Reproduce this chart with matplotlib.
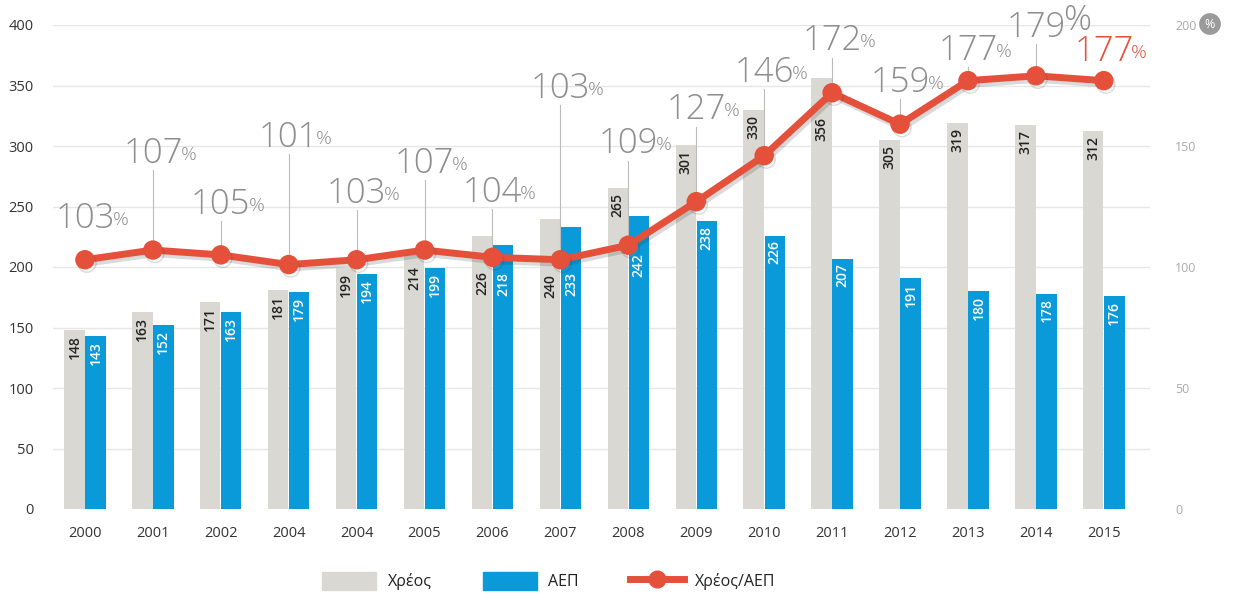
import matplotlib
matplotlib.use('Agg')
import matplotlib.pyplot as plt
import matplotlib.patheffects as pe
from matplotlib.patches import Patch
from matplotlib.lines import Line2D
import numpy as np

# Δεδομένα
years = ['2000', '2001', '2002', '2004', '2004', '2005', '2006', '2007',
         '2008', '2009', '2010', '2011', '2012', '2013', '2014', '2015']
debt = [148, 163, 171, 181, 199, 214, 226, 240, 265, 301, 330, 356, 305, 319, 317, 312]
gdp = [143, 152, 163, 179, 194, 199, 218, 233, 242, 238, 226, 207, 191, 180, 178, 176]
ratio = [103, 107, 105, 101, 103, 107, 104, 103, 109, 127, 146, 172, 159, 177, 179, 177]

plt.rcParams['font.family'] = ['Open Sans', 'DejaVu Sans']

GREY = '#d9d8d2'
BLUE = '#0a99d9'
RED = '#e5503b'
PCT = '#8e8e8e'

fig = plt.figure(figsize=(12.42, 6.10), dpi=100)
ax = fig.add_axes([53 / 1242, 1 - 509 / 610, (1150 - 53) / 1242, (509 - 25) / 610])
ax2 = ax.twinx()

x = np.arange(len(years))
w = 0.3
ax.bar(x - 0.155, debt, w, color=GREY, zorder=2)
ax.bar(x + 0.155, gdp, w, color=BLUE, zorder=2)

# ετικέτες μέσα στις μπάρες - κάτω από τη γραμμή όταν πέφτει πάνω τους
line_left = np.array(ratio) * 2  # ο δεξής άξονας είναι ο μισός του αριστερού


def label_top(xpos, val):
    top = val - 4
    lv = np.interp(xpos, x, line_left)
    if top - 22 < lv + 8 and top > lv - 10:
        top = lv - 12
    return top


for i in range(len(years)):
    ax.text(x[i] - 0.155, label_top(x[i] - 0.155, debt[i]), str(debt[i]),
            rotation=90, ha='center', va='top', fontsize=10, fontweight='semibold',
            color='#222222', zorder=3)
    ax.text(x[i] + 0.155, label_top(x[i] + 0.155, gdp[i]), str(gdp[i]),
            rotation=90, ha='center', va='top', fontsize=10, fontweight='semibold',
            color='white', zorder=3)

ax.set_ylim(0, 400)
ax.set_xlim(-0.47, 15.68)
ax.set_yticks(range(0, 401, 50))
ax.set_xticks(x)
ax.set_xticklabels(years)
ax.tick_params(axis='both', length=0, labelsize=10.5, colors='#333333')
ax.tick_params(axis='x', pad=12)
ax.tick_params(axis='y', pad=14)
for v in range(50, 401, 50):
    ax.axhline(v, color='#e6e6e6', lw=1, zorder=1)
for s in ax.spines.values():
    s.set_visible(False)

# γραμμή Χρέος/ΑΕΠ
ax2.set_ylim(0, 200)
ax2.set_yticks(range(0, 201, 50))
ax2.tick_params(axis='y', length=0, labelsize=9, colors='#aaaaaa', pad=18)
for s in ax2.spines.values():
    s.set_visible(False)
ax2.plot(x, ratio, color=RED, lw=5, marker='o', ms=13, zorder=5,
         path_effects=[pe.SimpleLineShadow(offset=(1.5, -2.5), shadow_color='#333333', alpha=0.18),
                       pe.Normal()])

# θέσεις ετικετών ποσοστού (βάση των ψηφίων, στον δεξί άξονα)
pct_y = [116, 143, 122, 149.5, 126.5, 139, 127, 170, 147, 161, 176.5, 189.5, 172.5, 185.5, 195, 185]
for i in range(len(years)):
    col = RED if i == len(years) - 1 else PCT
    t = ax2.text(x[i], pct_y[i], str(ratio[i]), ha='center', va='baseline',
                 fontsize=25, color=col, fontweight='light', zorder=6)
    ax2.annotate('%', xy=(1, 0), xycoords=t, xytext=(-1.5, 5), textcoords='offset points',
                 ha='left', va='bottom', fontsize=25 if i == 14 else 14,
                 color=col, fontweight='light')
    if 0 < i < len(years) - 1:
        ax2.plot([x[i], x[i]], [pct_y[i] - 3, ratio[i] + 4], color='#bbbbbb',
                 lw=0.8, zorder=4)

# σήμα %
fig.text(1210 / 1242, 1 - 24 / 610, '%', ha='center', va='center', fontsize=9,
         color='white', bbox=dict(boxstyle='circle,pad=0.35', fc='#9a9a9a', ec='none'))

handles = [Patch(color=GREY), Patch(color=BLUE),
           Line2D([0], [0], color=RED, lw=5, marker='o', ms=12)]
fig.legend(handles, ['Χρέος', 'ΑΕΠ', 'Χρέος/ΑΕΠ'], loc='center',
           bbox_to_anchor=(549 / 1242, 1 - 581 / 610), ncol=3, frameon=False,
           fontsize=11.5, handlelength=3.4, handleheight=1.4, columnspacing=3.2,
           handletextpad=0.7, labelcolor='#222222')

fig.savefig('out.png', dpi=100)
